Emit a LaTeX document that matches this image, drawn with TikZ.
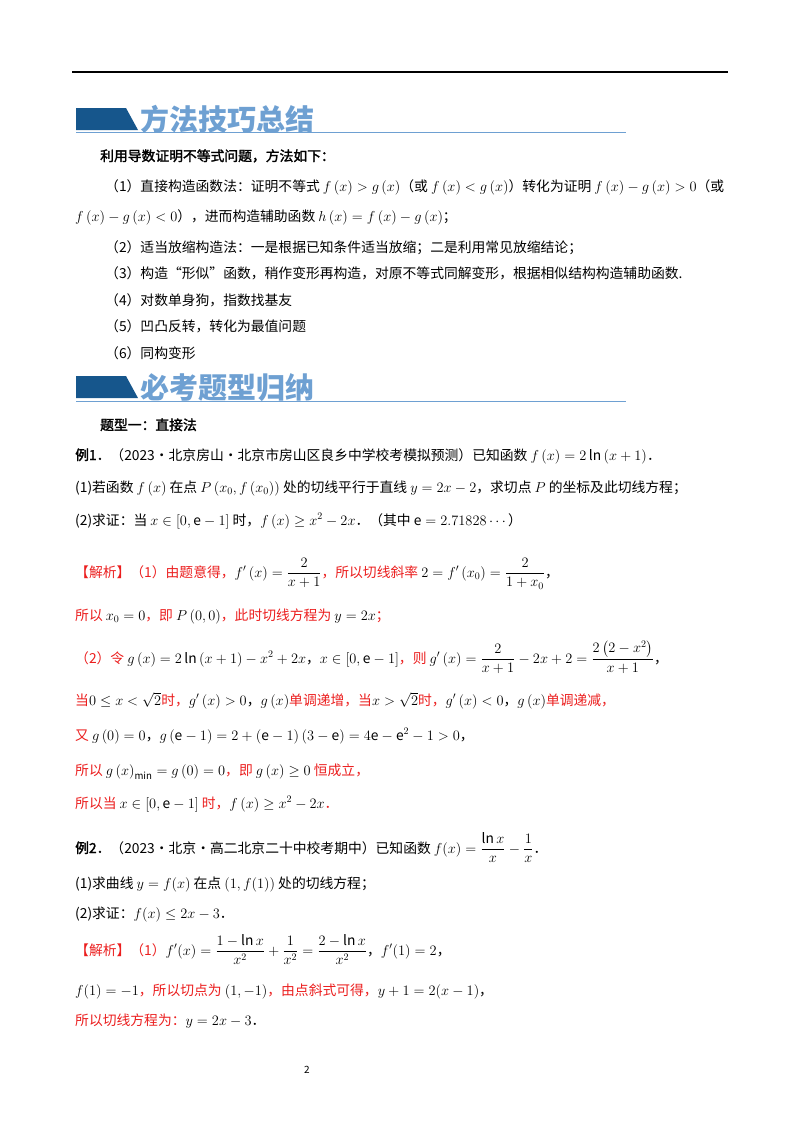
\documentclass[tikz,border=0pt]{standalone}
\usepackage{fontspec}
\usepackage{amsmath,amssymb}
\setmainfont{Noto Sans CJK SC}
\newfontfamily\cjkb{Noto Sans CJK SC}[FakeBold=2]
\definecolor{bdark}{RGB}{22,86,140}
\definecolor{blight}{RGB}{110,160,210}
\definecolor{redt}{RGB}{235,30,30}
\newcommand{\Rd}[1]{\textcolor{redt}{#1}}
\begin{document}
\begin{tikzpicture}[x=1pt,y=-1pt,
  ln/.style={anchor=base west,inner sep=0pt,font=\fontsize{13.8}{15}\selectfont},
  ttl/.style={anchor=base west,inner sep=0pt,text=blight,font=\fontsize{29}{30}\selectfont\bfseries}]
\useasboundingbox (0,0) rectangle (800,1132);
\draw[line width=1.2pt] (72,72) -- (728,72);
% banner 1
\fill[bdark] (76,108) -- (126,108) -- (138,130) -- (76,130) -- cycle;
\node[ttl] (t1) at (140,130) {方法技巧总结};
\draw[blight,line width=1pt] (76,132) -- (626,132);
\node[ln] (l1) at (100,161) {\cjkb 利用导数证明不等式问题，方法如下：};
\node[ln] (l2) at (105,191) {（1）直接构造函数法：证明不等式 $f\left(x\right)>g\left(x\right)$（或 $f\left(x\right)<g\left(x\right)$）转化为证明 $f\left(x\right)-g\left(x\right)>0$（或};
\node[ln] (l3) at (75,221) {$f\left(x\right)-g\left(x\right)<0$），进而构造辅助函数 $h\left(x\right)=f\left(x\right)-g\left(x\right)$；};
\node[ln] (l4) at (105,252) {（2）适当放缩构造法：一是根据已知条件适当放缩；二是利用常见放缩结论；};
\node[ln] (l5) at (105,278) {（3）构造“形似”函数，稍作变形再构造，对原不等式同解变形，根据相似结构构造辅助函数.};
\node[ln] (l6) at (105,305) {（4）对数单身狗，指数找基友};
\node[ln] (l7) at (105,331) {（5）凹凸反转，转化为最值问题};
\node[ln] (l8) at (105,358) {（6）同构变形};
% banner 2
\fill[bdark] (76,376) -- (126,376) -- (138,398) -- (76,398) -- cycle;
\node[ttl] (t2) at (140,398) {必考题型归纳};
\draw[blight,line width=1pt] (76,401) -- (626,401);
\node[ln] (l9) at (100,430) {\cjkb 题型一：直接法};
\node[ln] (l10) at (75,460) {{\cjkb 例1．}（2023·北京房山·北京市房山区良乡中学校考模拟预测）已知函数 $f\left(x\right)=2\ln\left(x+1\right)$．};
\node[ln] (l11) at (75,492) {(1)若函数 $f\left(x\right)$ 在点 $P\left(x_0,f\left(x_0\right)\right)$ 处的切线平行于直线 $y=2x-2$，求切点 $P$ 的坐标及此切线方程；};
\node[ln] (l12) at (75,525) {(2)求证：当 $x\in\left[0,\mathrm{e}-1\right]$ 时，$f\left(x\right)\ge x^2-2x$．（其中 $\mathrm{e}=2.71828\cdots$）};
\node[ln] (l13) at (75,577) {\Rd{【解析】（1）由题意得，}$f'\left(x\right)=\dfrac{2}{x+1}$\Rd{，所以切线斜率} $2=f'\left(x_0\right)=\dfrac{2}{1+x_0}$，};
\node[ln] (l14) at (75,620) {\Rd{所以} $x_0=0$\Rd{，即} $P\left(0,0\right)$\Rd{，此时切线方程为} $y=2x$\Rd{；}};
\node[ln] (l15) at (75,663) {\Rd{（2）令} $g\left(x\right)=2\ln\left(x+1\right)-x^2+2x$，$x\in\left[0,\mathrm{e}-1\right]$\Rd{，则} $g'\left(x\right)=\dfrac{2}{x+1}-2x+2=\dfrac{2\left(2-x^2\right)}{x+1}$，};
\node[ln] (l16) at (75,705) {\Rd{当}$0\le x<\sqrt2$\Rd{时，}$g'\left(x\right)>0$，$g\left(x\right)$\Rd{单调递增，当}$x>\sqrt2$\Rd{时，}$g'\left(x\right)<0$，$g\left(x\right)$\Rd{单调递减，}};
\node[ln] (l17) at (75,740) {\Rd{又} $g\left(0\right)=0$，$g\left(\mathrm{e}-1\right)=2+\left(\mathrm{e}-1\right)\left(3-\mathrm{e}\right)=4\mathrm{e}-\mathrm{e}^2-1>0$，};
\node[ln] (l18) at (75,775) {\Rd{所以} $g\left(x\right)_{\min}=g\left(0\right)=0$\Rd{，即} $g\left(x\right)\ge0$ \Rd{恒成立，}};
\node[ln] (l19) at (75,808) {\Rd{所以当} $x\in\left[0,\mathrm{e}-1\right]$ \Rd{时，}$f\left(x\right)\ge x^2-2x$\Rd{．}};
\node[ln] (l20) at (75,853) {{\cjkb 例2．}（2023·北京·高二北京二十中校考期中）已知函数 $f(x)=\dfrac{\ln x}{x}-\dfrac{1}{x}$．};
\node[ln] (l21) at (75,888) {(1)求曲线 $y=f(x)$ 在点 $(1,f(1))$ 处的切线方程；};
\node[ln] (l22) at (75,918) {(2)求证：$f(x)\le 2x-3$．};
\node[ln] (l23) at (75,955) {\Rd{【解析】（1）}$f'(x)=\dfrac{1-\ln x}{x^2}+\dfrac{1}{x^2}=\dfrac{2-\ln x}{x^2}$，$f'(1)=2$，};
\node[ln] (l24) at (75,995) {$f(1)=-1$\Rd{，所以切点为} $(1,-1)$\Rd{，由点斜式可得，}$y+1=2(x-1)$，};
\node[ln] (l25) at (75,1025) {\Rd{所以切线方程为：}$y=2x-3$．};
\node[anchor=base,inner sep=0pt,font=\fontsize{10}{12}\selectfont] (pg) at (307,1073) {2};
\end{tikzpicture}
\end{document}
